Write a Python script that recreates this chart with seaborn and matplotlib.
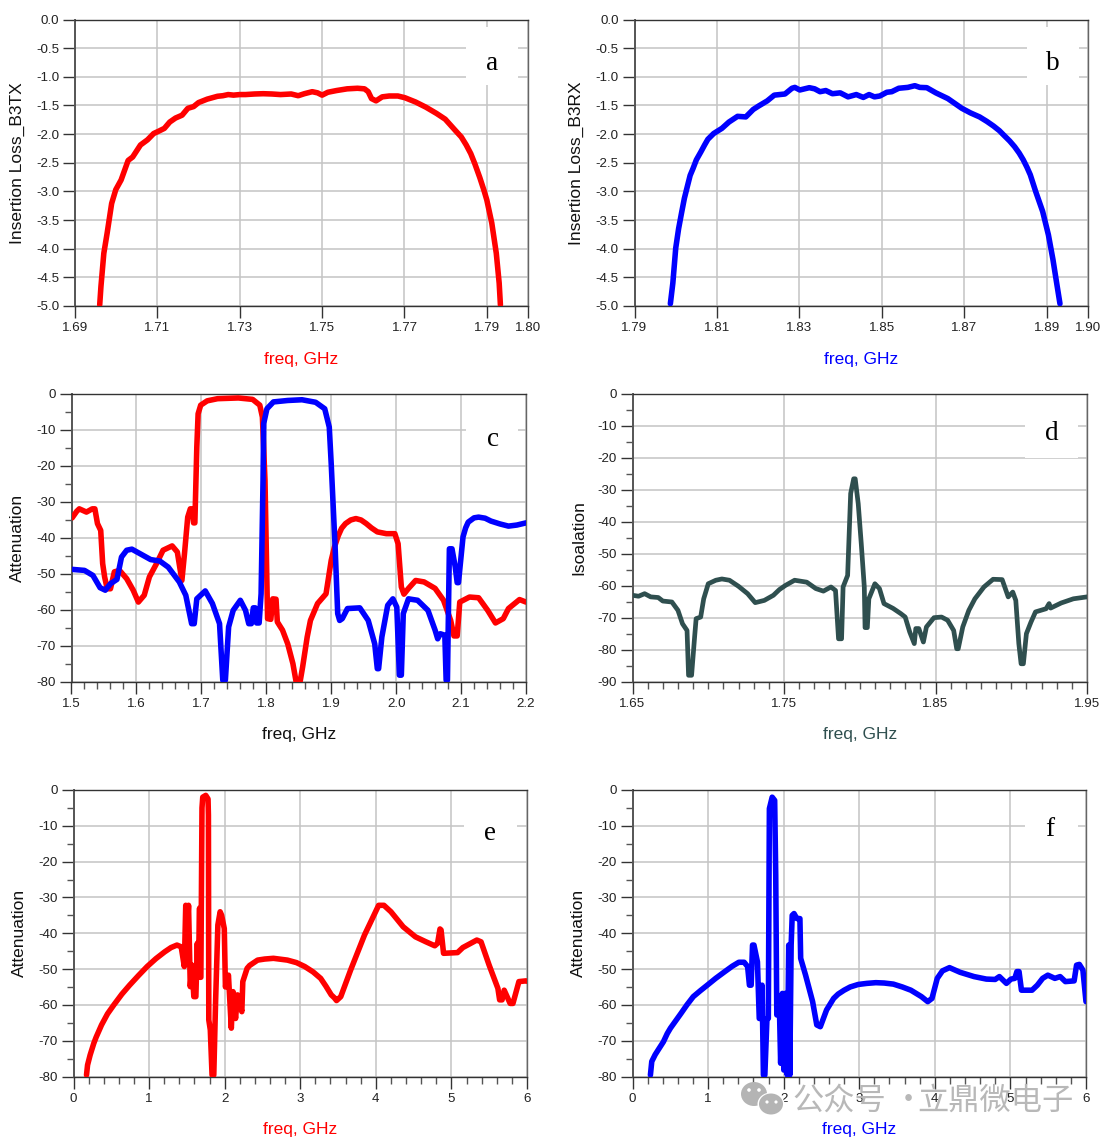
import matplotlib
matplotlib.use("Agg")
import matplotlib.pyplot as plt
import seaborn as sns
import pandas as pd
from matplotlib.patches import Ellipse, Rectangle
from matplotlib.ticker import MultipleLocator, FixedLocator, FixedFormatter

a_freq = [1.6960,1.6963,1.6970,1.6978,1.6989,1.6999,1.7012,1.7029,1.7040,1.7059,1.7076,1.7091,1.7103,1.7117,1.7130,1.7144,1.7160,1.7174,1.7188,1.7200,1.7221,1.7246,1.7259,1.7272,1.7285,1.7300,1.7314,1.7336,1.7357,1.7378,1.7399,1.7425,1.7442,1.7457,1.7476,1.7489,1.7500,1.7514,1.7535,1.7561,1.7586,1.7603,1.7612,1.7620,1.7631,1.7646,1.7663,1.7684,1.7701,1.7727,1.7752,1.7778,1.7799,1.7824,1.7838,1.7850,1.7861,1.7871,1.7883,1.7893,1.7900,1.7912,1.7923,1.7930,1.7933]
a_loss = [-4.98,-4.66,-4.08,-3.73,-3.21,-2.97,-2.80,-2.46,-2.40,-2.19,-2.10,-1.99,-1.95,-1.90,-1.79,-1.72,-1.67,-1.55,-1.52,-1.45,-1.39,-1.34,-1.33,-1.31,-1.32,-1.31,-1.31,-1.30,-1.295,-1.30,-1.31,-1.30,-1.33,-1.295,-1.26,-1.28,-1.32,-1.27,-1.24,-1.21,-1.20,-1.21,-1.26,-1.38,-1.42,-1.35,-1.335,-1.335,-1.365,-1.44,-1.53,-1.64,-1.74,-1.94,-2.05,-2.19,-2.34,-2.52,-2.76,-2.98,-3.15,-3.55,-4.08,-4.6,-4.98]

b_freq = [1.7987,1.7993,1.8000,1.8007,1.8014,1.8021,1.8029,1.8035,1.8042,1.8050,1.8061,1.8070,1.8078,1.8092,1.8112,1.8129,1.8150,1.8170,1.8188,1.8201,1.8222,1.8239,1.8265,1.8282,1.8289,1.8301,1.8324,1.8337,1.8350,1.8364,1.8380,1.8399,1.8418,1.8438,1.8455,1.8469,1.8482,1.8495,1.8512,1.8524,1.8541,1.8563,1.8580,1.8592,1.8609,1.8631,1.8660,1.8694,1.8715,1.8737,1.8755,1.8771,1.8785,1.8796,1.8810,1.8822,1.8833,1.8843,1.8852,1.8860,1.8873,1.8890,1.8904,1.8915,1.8924,1.8932]
b_loss = [-4.96,-4.60,-3.99,-3.65,-3.38,-3.12,-2.89,-2.72,-2.60,-2.45,-2.31,-2.19,-2.09,-1.99,-1.90,-1.79,-1.69,-1.70,-1.57,-1.51,-1.42,-1.32,-1.30,-1.20,-1.185,-1.23,-1.19,-1.21,-1.26,-1.24,-1.295,-1.28,-1.35,-1.31,-1.36,-1.31,-1.35,-1.335,-1.27,-1.26,-1.20,-1.185,-1.155,-1.185,-1.19,-1.28,-1.38,-1.55,-1.63,-1.70,-1.78,-1.86,-1.94,-2.02,-2.12,-2.22,-2.33,-2.45,-2.58,-2.71,-3.00,-3.35,-3.76,-4.19,-4.60,-4.96]

c_tx_freq = [1.501,1.508,1.512,1.523,1.532,1.536,1.540,1.545,1.548,1.551,1.555,1.560,1.566,1.574,1.585,1.595,1.603,1.612,1.620,1.631,1.641,1.655,1.663,1.670,1.674,1.679,1.683,1.686,1.688,1.690,1.693,1.695,1.699,1.709,1.725,1.757,1.779,1.790,1.794,1.798,1.802,1.807,1.810,1.815,1.817,1.825,1.833,1.841,1.846,1.852,1.856,1.863,1.868,1.879,1.892,1.900,1.905,1.911,1.916,1.922,1.930,1.938,1.946,1.954,1.962,1.971,1.985,1.998,2.003,2.008,2.012,2.019,2.030,2.043,2.060,2.073,2.084,2.089,2.094,2.098,2.113,2.127,2.141,2.153,2.165,2.173,2.190,2.200]
c_tx_att = [-34.4,-32.6,-31.9,-32.8,-31.9,-31.9,-36.0,-37.9,-47.1,-50.8,-54.1,-54.1,-49.4,-49.0,-51.3,-54.5,-57.8,-55.9,-50.8,-47.1,-43.4,-42.2,-43.9,-51.8,-44.4,-34.2,-31.9,-31.9,-35.8,-35.8,-14.7,-5.5,-3.1,-1.9,-1.3,-1.1,-1.5,-3.1,-6.4,-24,-62.4,-62.6,-56.9,-57,-63.3,-65.6,-69.4,-74.9,-80,-80,-75.8,-67.5,-62.9,-58.2,-55.5,-46.2,-42.5,-39.3,-37.3,-36,-35,-34.6,-35,-36,-37.2,-38.3,-38.8,-38.8,-41.6,-53.6,-55.6,-54,-51.8,-52.2,-54,-57.3,-62.9,-67.2,-67.2,-57.8,-56.4,-56.6,-60.1,-63.6,-62.4,-59.6,-57.1,-57.8]
c_rx_freq = [1.500,1.520,1.533,1.544,1.552,1.560,1.570,1.577,1.585,1.593,1.606,1.622,1.636,1.649,1.666,1.676,1.685,1.689,1.693,1.706,1.717,1.728,1.733,1.737,1.742,1.749,1.760,1.768,1.773,1.777,1.780,1.783,1.785,1.789,1.792,1.795,1.796,1.801,1.811,1.833,1.855,1.876,1.890,1.897,1.900,1.906,1.910,1.913,1.917,1.925,1.944,1.957,1.967,1.971,1.973,1.978,1.987,1.995,2.001,2.005,2.008,2.011,2.019,2.033,2.049,2.060,2.064,2.068,2.075,2.077,2.079,2.082,2.086,2.091,2.094,2.096,2.103,2.107,2.111,2.120,2.127,2.137,2.146,2.160,2.173,2.186,2.200]
c_rx_att = [-48.7,-49,-50.4,-53.8,-54.5,-52.7,-51.5,-45.3,-43.4,-43.1,-44.4,-46.0,-46.4,-48.1,-52.2,-55.9,-63.8,-63.8,-56.9,-54.7,-58.2,-63.8,-79.5,-79.5,-64.7,-60.1,-57.3,-60.1,-63.8,-63.8,-59.4,-59.4,-63.6,-63.6,-55.5,-24,-8.2,-4.1,-2.2,-1.8,-1.6,-2.3,-4.1,-9.2,-19.4,-42.5,-61,-62.9,-62.4,-59.6,-59.4,-62.9,-69.4,-76.3,-76.3,-67.5,-58.7,-56.9,-59.2,-78.1,-78.1,-61,-56.9,-57.3,-60.1,-65.6,-68,-66.6,-67,-79.5,-79.5,-43,-43,-48,-52.4,-52.4,-39.7,-37.2,-35.6,-34.4,-34.2,-34.5,-35.3,-36.1,-36.7,-36.4,-35.8]

d_freq = [1.650,1.654,1.658,1.662,1.667,1.670,1.676,1.680,1.683,1.686,1.687,1.689,1.691,1.692,1.695,1.697,1.700,1.705,1.709,1.714,1.720,1.726,1.731,1.737,1.743,1.747,1.751,1.757,1.765,1.771,1.776,1.781,1.784,1.786,1.788,1.789,1.792,1.794,1.796,1.797,1.799,1.801,1.803,1.8035,1.805,1.806,1.810,1.813,1.816,1.822,1.827,1.830,1.833,1.836,1.837,1.839,1.842,1.844,1.849,1.854,1.858,1.862,1.864,1.865,1.868,1.872,1.876,1.882,1.888,1.894,1.898,1.901,1.903,1.905,1.9065,1.908,1.910,1.913,1.916,1.923,1.925,1.926,1.933,1.941,1.950]
d_iso = [-62.9,-63.2,-62.4,-63.4,-63.6,-64.7,-65,-67.6,-71.8,-73.9,-87.9,-87.9,-75.9,-70.2,-69.7,-64,-59.3,-58.2,-57.8,-58.2,-60.1,-62.4,-65.2,-64.5,-62.9,-61.1,-59.8,-58.2,-58.8,-60.8,-61.6,-60.3,-61.4,-76.5,-76.5,-60.3,-56.7,-31.1,-26.5,-26.5,-34.3,-46.8,-60.3,-73,-73,-64,-59.3,-60.8,-65.5,-67,-68.6,-69.7,-74.4,-78,-73.3,-73.3,-77.5,-72.8,-69.9,-69.7,-70.7,-73.9,-79.6,-79.6,-72.8,-67.6,-64,-60.3,-57.9,-58,-63.4,-61.9,-64.5,-78,-84.3,-84.3,-74.9,-71.3,-68.1,-67.1,-65.5,-66.9,-65.3,-64,-63.4]

e_freq = [0.172,0.186,0.22,0.269,0.30,0.371,0.45,0.534,0.64,0.742,0.86,0.974,1.09,1.206,1.29,1.369,1.425,1.466,1.485,1.503,1.522,1.545,1.568,1.592,1.619,1.638,1.650,1.668,1.675,1.685,1.70,1.71,1.75,1.78,1.785,1.79,1.81,1.833,1.856,1.88,1.91,1.94,1.96,1.995,2.01,2.05,2.088,2.11,2.144,2.17,2.227,2.24,2.297,2.33,2.436,2.53,2.645,2.83,2.95,3.06,3.17,3.27,3.34,3.41,3.45,3.48,3.536,3.666,3.85,4.037,4.107,4.2,4.362,4.524,4.664,4.78,4.817,4.849,4.863,4.896,5.081,5.151,5.336,5.392,5.499,5.615,5.638,5.67,5.698,5.777,5.814,5.893,5.986,6.0]
e_att = [-79.6,-76.8,-74,-70.7,-69,-65.6,-62.5,-60,-57,-54.5,-51.8,-49.3,-47.1,-45.2,-44,-43.3,-43.8,-49.3,-32.2,-39.6,-32.2,-54.9,-48.9,-57.7,-57.7,-42.8,-52.3,-33,-52.3,-52.3,-5,-2,-1.5,-2.5,-7,-64.2,-67,-79.6,-79.6,-59,-37.7,-34,-35,-38.7,-55,-51.7,-66.5,-56.3,-63.8,-57.2,-61.9,-53.5,-49.8,-49,-47.5,-47.2,-47,-47.5,-48.2,-49.3,-50.8,-52.6,-54.8,-57.2,-58,-58.8,-57.7,-50.3,-40.5,-32.2,-32.2,-34,-38.2,-41,-42.4,-43.5,-42.8,-38.8,-39.1,-45.6,-45.4,-44,-41.9,-42.4,-48.9,-55.4,-58.6,-58.6,-55.9,-59.6,-59.6,-53.5,-53.3,-53.4]

f_freq = [0.237,0.255,0.30,0.339,0.409,0.46,0.502,0.641,0.72,0.804,0.90,0.989,1.10,1.222,1.32,1.407,1.477,1.523,1.547,1.57,1.588,1.607,1.653,1.677,1.70,1.714,1.732,1.751,1.779,1.797,1.811,1.848,1.881,1.895,1.909,1.928,1.941,1.96,1.983,2.002,2.02,2.048,2.067,2.081,2.099,2.113,2.137,2.174,2.215,2.225,2.29,2.383,2.438,2.485,2.568,2.661,2.72,2.80,2.88,2.986,3.10,3.219,3.33,3.451,3.57,3.683,3.823,3.906,3.962,4.032,4.101,4.194,4.334,4.519,4.682,4.798,4.854,4.947,5.007,5.058,5.086,5.114,5.146,5.286,5.356,5.426,5.495,5.588,5.658,5.727,5.843,5.875,5.912,5.959,6.0]
f_att = [-79.6,-75.8,-73.9,-72.6,-70.3,-68,-66.5,-62.4,-60,-57.7,-56,-54.5,-52.6,-50.7,-49.2,-48.1,-48.1,-49.3,-54.5,-54.5,-43.3,-43.3,-48,-63.8,-63.8,-54.5,-79.6,-79.6,-63.8,-63.8,-5.2,-2,-2.9,-23.8,-62.8,-62.8,-58.2,-76.3,-56.8,-78.2,-56.8,-79.6,-43.3,-79.6,-43.3,-35,-34.5,-35.9,-35.9,-47,-51.7,-59.1,-65.6,-66.1,-61.4,-58.2,-57,-55.9,-55,-54.3,-54,-53.8,-53.9,-54.2,-55,-55.9,-57.7,-59.1,-58.2,-52.6,-50.5,-49.6,-50.9,-52.1,-52.8,-52.9,-52.1,-54,-52.8,-52.6,-50.7,-50.7,-55.9,-55.9,-54.5,-52.6,-51.7,-52.6,-52.1,-53.5,-53.3,-48.9,-48.7,-50.3,-59.1]

ticks_a = [1.69, 1.71, 1.73, 1.75, 1.77, 1.79, 1.80]
ticks_b = [1.79, 1.81, 1.83, 1.85, 1.87, 1.89, 1.90]
ticks_d = [1.65, 1.75, 1.85, 1.95]
RED, BLUE, SLATE = "#ff0000", "#0000ff", "#2f4f4f"

sns.set_theme(style="ticks")
plt.rcParams["font.family"] = ["Liberation Sans", "DejaVu Sans"]
W, H = 1110, 1144
fig = plt.figure(figsize=(W / 100, H / 100), dpi=100)


def panel(box, series, xlim, ylim, xmajor, xminor, ymajor, yminor, xfmt, yfmt,
          ylabel, xcolor, ylab_x, letter, letter_xy, box_x, box_y, lw=4.0, xlabels=None):
    l, r, t, b = box
    ax = fig.add_axes([l / W, 1 - b / H, (r - l) / W, (b - t) / H])
    for xs, ys, color in series:
        df = pd.DataFrame({"freq": xs, "val": ys})
        sns.lineplot(data=df, x="freq", y="val", ax=ax, color=color, linewidth=lw,
                     sort=False, estimator=None, errorbar=None, zorder=3)
    ax.set_xlim(*xlim)
    ax.set_ylim(*ylim)
    if isinstance(xmajor, list):
        ax.xaxis.set_major_locator(FixedLocator(xmajor))
        ax.xaxis.set_major_formatter(FixedFormatter(xlabels))
    else:
        ax.xaxis.set_major_locator(MultipleLocator(xmajor))
        ax.xaxis.set_major_formatter(lambda v, p: xfmt % v)
    if xminor:
        ax.xaxis.set_minor_locator(MultipleLocator(xminor))
    ax.yaxis.set_major_locator(MultipleLocator(ymajor))
    ax.yaxis.set_major_formatter(lambda v, p: (yfmt % v).replace("\u2212", "-"))
    if yminor:
        ax.yaxis.set_minor_locator(MultipleLocator(yminor))
    ax.grid(True, which="major", color="#c4c4c4", linewidth=1.1, zorder=0)
    ax.set_axisbelow(True)
    ax.tick_params(axis="both", which="major", length=8.8, width=1.0, color="#333333",
                   labelsize=9.6, labelcolor="#222222", pad=2.5)
    ax.tick_params(axis="x", which="major", pad=3)
    ax.tick_params(axis="both", which="minor", length=5, width=1.0, color="#555555")
    for s in ax.spines.values():
        s.set_linewidth(1.0)
        s.set_color("#333333")
    ax.spines["left"].set_color("#555555")
    ax.spines["left"].set_linewidth(1.4)
    ax.spines["right"].set_color("#666666")
    ax.set_xlabel("freq, GHz", color=xcolor, fontsize=12.5)
    ax.xaxis.set_label_coords(0.5, -(box_y[2] - 7 - b) / (b - t), transform=ax.transAxes)
    ax.set_ylabel(ylabel, color="#111111", fontsize=12.5)
    ax.yaxis.set_label_coords((ylab_x + 10 - l) / (r - l), 0.5, transform=ax.transAxes)
    bx0, bx1 = box_x
    by0, by1 = box_y[0], box_y[1]
    ax.add_patch(Rectangle(((bx0 - l) / (r - l), (b - by1) / (b - t)),
                           (bx1 - bx0) / (r - l), (by1 - by0) / (b - t),
                           transform=ax.transAxes, facecolor="white", edgecolor="none", zorder=2))
    ax.text((letter_xy[0] - l) / (r - l), (b - letter_xy[1] - 3) / (b - t), letter,
            transform=ax.transAxes, ha="center", va="center",
            family="Liberation Serif", fontsize=19.5, color="black", zorder=5)
    return ax


panel((75, 528, 19.5, 306), [(a_freq, a_loss, RED)], (1.69, 1.80), (-5, 0),
      ticks_a, None, 0.5, None, "%.2f", "%.1f", "Insertion Loss_B3TX", RED, 15,
      "a", (492, 60), (466, 518), (27, 85, 359), xlabels=["%.2f" % v for v in ticks_a])
panel((634.5, 1088, 19.5, 306), [(b_freq, b_loss, BLUE)], (1.79, 1.90), (-5, 0),
      ticks_b, None, 0.5, None, "%.2f", "%.1f", "Insertion Loss_B3RX", BLUE, 574,
      "b", (1053, 60), (1027, 1079), (27, 85, 359), xlabels=["%.2f" % v for v in ticks_b])
panel((71.5, 526, 394, 682), [(c_tx_freq, c_tx_att, RED), (c_rx_freq, c_rx_att, BLUE)],
      (1.5, 2.2), (-80, 0), 0.1, 0.02, 10, 5, "%.1f", "%.0f", "Attenuation", "#111111", 15,
      "c", (493, 436), (466, 518), (405, 462, 734))
panel((632.5, 1087, 394, 682), [(d_freq, d_iso, SLATE)], (1.65, 1.95), (-90, 0),
      ticks_d, 0.01, 10, 5, "%.2f", "%.0f", "Isoalation", SLATE, 576,
      "d", (1052, 431), (1025, 1078), (405, 458, 734), lw=3.4, xlabels=["%.2f" % v for v in ticks_d])
panel((73.5, 527, 790, 1076.5), [(e_freq, e_att, RED)], (0, 6), (-80, 0),
      1, 0.2, 10, 5, "%.0f", "%.0f", "Attenuation", RED, 17,
      "e", (490, 831), (464, 517), (802, 858, 1129))
panel((632.5, 1086, 790, 1076.5), [(f_freq, f_att, BLUE)], (0, 6), (-80, 0),
      1, 0.2, 10, 5, "%.0f", "%.0f", "Attenuation", BLUE, 576,
      "f", (1050, 827), (1025, 1078), (802, 858, 1129))

# watermark
GREY = "#b4b4b4"
cjk = ["Noto Sans CJK SC", "DejaVu Sans"]
for txt, px in [("公众号", 792), ("·", 893), ("立鼎微电子", 917)]:
    fig.text(px / W, 1 - 1101 / H, txt, color=GREY, fontsize=22.5, alpha=0.95,
             family=cjk, ha="left", va="center", zorder=10)
sx, sy = 1 / W, 1 / H
for (cx, cy, rx, ry, col) in [(754, 1094, 13, 12, GREY), (771, 1104, 13.5, 11.5, "white"),
                              (771, 1104, 12, 10.5, GREY),
                              (749, 1090, 1.8, 1.8, "white"), (759, 1090, 1.8, 1.8, "white"),
                              (767, 1102, 1.6, 1.6, "white"), (776, 1102, 1.6, 1.6, "white")]:
    fig.add_artist(Ellipse((cx * sx, 1 - cy * sy), 2 * rx * sx, 2 * ry * sy,
                           transform=fig.transFigure, facecolor=col, edgecolor="none", zorder=9))

fig.savefig("out.png", dpi=100)
